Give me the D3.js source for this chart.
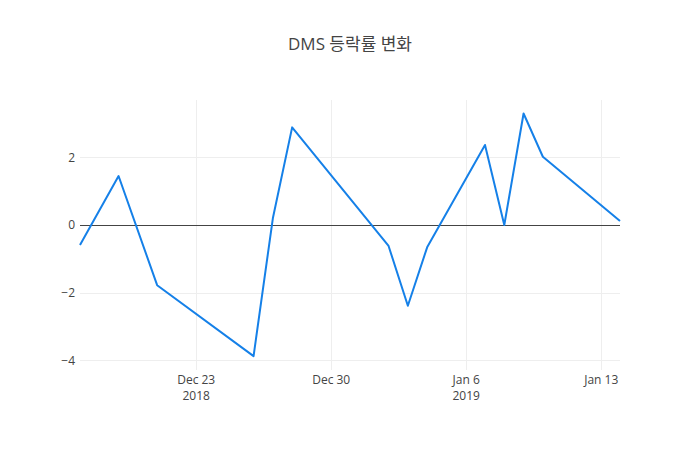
<!DOCTYPE html>
<html><head><meta charset="utf-8">
<script src="https://cdn.jsdelivr.net/npm/d3@7"></script>
<style>body{margin:0;background:#fff;} text{font-family:"Open Sans","Noto Sans CJK KR",sans-serif;}</style>
</head><body>
<svg id="c" width="700" height="450"></svg>
<script>
const dates = ["2018-12-17","2018-12-19","2018-12-21","2018-12-26","2018-12-27","2018-12-28","2019-01-02","2019-01-03","2019-01-04","2019-01-07","2019-01-08","2019-01-09","2019-01-10","2019-01-14"];
const values = [-0.59, 1.45, -1.78, -3.88, 0.2, 2.89, -0.62, -2.39, -0.66, 2.37, 0.0, 3.30, 2.02, 0.12];
const yTicks = [-4, -2, 0, 2];
const xTicks = ["2018-12-23","2018-12-30","2019-01-06","2019-01-13"];
const xTickLabels = [["Dec 23","2018"],["Dec 30",""],["Jan 6","2019"],["Jan 13",""]];
const title = "DMS 등락률 변화";

const parse = d3.utcParse("%Y-%m-%d");
const svg = d3.select("#c");
const m = {l:80, r:80, t:100, b:80}, W = 700, H = 450;
const x = d3.scaleUtc().domain([parse(dates[0]), parse(dates[dates.length-1])]).range([m.l, W-m.r]);
const y = d3.scaleLinear().domain([-4.29, 3.70]).range([H-m.b, m.t]);
const crisp = v => Math.round(v) + 0.5;

// grid
const g = svg.append("g");
g.selectAll(".gx").data(xTicks).join("line")
  .attr("x1", d=>crisp(x(parse(d)))).attr("x2", d=>crisp(x(parse(d))))
  .attr("y1", m.t).attr("y2", H-m.b).attr("stroke","#eee").attr("stroke-width",1);
g.selectAll(".gy").data(yTicks.filter(v=>v!==0)).join("line")
  .attr("x1", m.l).attr("x2", W-m.r)
  .attr("y1", d=>crisp(y(d))).attr("y2", d=>crisp(y(d))).attr("stroke","#eee").attr("stroke-width",1);
// zero line
svg.append("line").attr("x1", m.l).attr("x2", W-m.r).attr("y1", crisp(y(0))).attr("y2", crisp(y(0)))
  .attr("stroke","#444").attr("stroke-width",1);

// y tick labels
const yAxis = d3.axisLeft(y).tickValues(yTicks).tickSize(0).tickPadding(3)
  .tickFormat(d => d3.format("")(d).replace("-", "\u2212"));
const ya = svg.append("g").attr("transform",`translate(${m.l},0)`).call(yAxis);
ya.select(".domain").remove();
ya.selectAll("text").attr("fill","#444").style("font-size","12px").attr("dx","-2");

// x tick labels
const xAxis = d3.axisBottom(x).tickValues(xTicks.map(parse)).tickSize(0).tickFormat(()=>"");
const xa = svg.append("g").attr("transform",`translate(0,${H-m.b})`).call(xAxis);
xa.select(".domain").remove();
xa.selectAll(".tick").each(function(d,i){
  const t = d3.select(this).append("text").attr("fill","#444").style("font-size","12px")
    .attr("text-anchor","middle").attr("y",14);
  t.append("tspan").attr("x",0).text(xTickLabels[i][0]);
  if (xTickLabels[i][1]) t.append("tspan").attr("x",0).attr("dy","16").text(xTickLabels[i][1]);
});

// line
const data = dates.map((d,i)=>({d:parse(d), v:values[i]}));
svg.append("path").datum(data)
  .attr("d", d3.line().x(d=>x(d.d)).y(d=>y(d.v)))
  .attr("fill","none").attr("stroke","#1580e8").attr("stroke-width",2).attr("stroke-linejoin","round");

// title
svg.append("text").attr("x", W/2).attr("y", 50).attr("text-anchor","middle")
  .attr("fill","#444").style("font-size","17px").text(title);
</script>
</body></html>
